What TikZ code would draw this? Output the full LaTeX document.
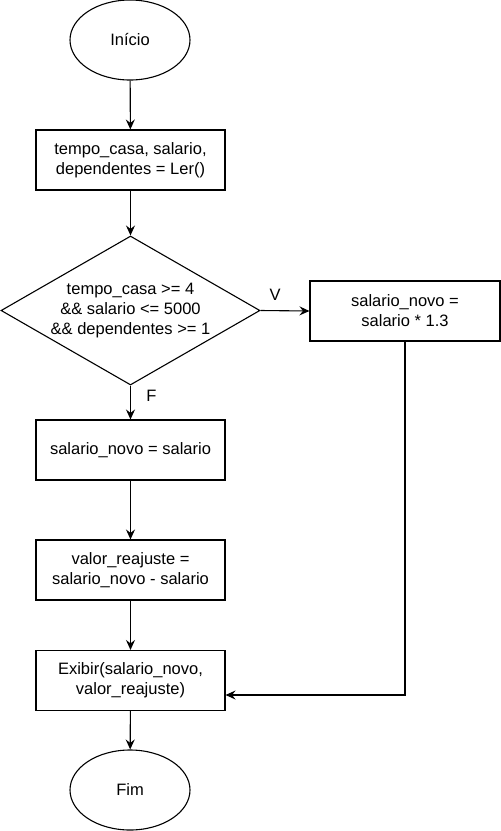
\documentclass[tikz,border=0pt]{standalone}
\usepackage{fontspec}
\setmainfont{Liberation Sans}
\usetikzlibrary{shapes.geometric,arrows.meta}

\tikzset{
  terminal/.style={draw, ellipse, minimum width=120pt, minimum height=80pt, inner sep=0pt},
  process/.style={draw, rectangle, minimum width=189pt, minimum height=60pt, align=center, inner sep=0pt},
  decision/.style={draw, diamond, minimum width=259pt, minimum height=149pt, aspect=1.74, align=center, inner sep=0pt},
  flow/.style={-{Stealth[length=10pt,width=9pt,inset=3.5pt]}}
}

\begin{document}
\begin{tikzpicture}[x=1pt, y=-1pt, line width=1.1pt, font=\fontsize{16.5}{20}\selectfont]
\useasboundingbox (0,0) rectangle (501,831);
\node[terminal] (inicio) at (130,40) {Início};
\node[process] (ler) at (130.5,160) {tempo\_casa, salario,\\dependentes = Ler()};
\node[decision] (cond) at (130.5,310.5) {tempo\_casa >= 4\\\&\& salario <= 5000\\\&\& dependentes >= 1};
\node[process, minimum width=190pt] (novo) at (405,311) {salario\_novo =\\salario * 1.3};
\node[process] (igual) at (130.5,450) {salario\_novo = salario};
\node[process] (reaj) at (130.5,570) {valor\_reajuste =\\salario\_novo - salario};
\node[process] (exibir) at (130.5,680.5) {Exibir(salario\_novo,\\valor\_reajuste)};
\node[terminal] (fim) at (130,790) {Fim};
% conectores
\draw[flow] (inicio) -- (ler);
\draw[flow] (ler) -- (cond);
\draw[flow] (cond.east) -- node[above, pos=0.3, yshift=6pt] (v) {V} (novo.west);
\draw[flow] (cond.south) -- node[right, pos=0.3, xshift=12pt] (f) {F} (igual.north);
\draw[flow] (igual) -- (reaj);
\draw[flow] (reaj) -- (exibir);
\draw[flow] (novo.south) |- ([yshift=-14.5pt]exibir.east);
\draw[flow] (exibir) -- (fim);
\end{tikzpicture}
\end{document}
